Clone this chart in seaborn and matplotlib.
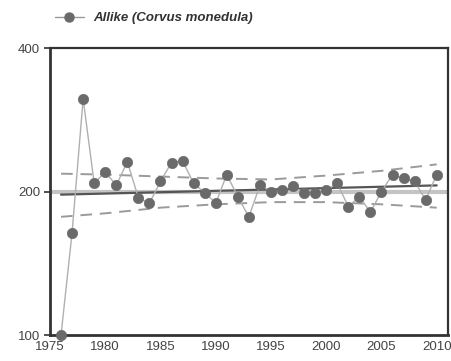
import matplotlib
matplotlib.use("Agg")
import matplotlib.pyplot as plt
from matplotlib.ticker import FixedLocator, NullLocator, MultipleLocator
from matplotlib.lines import Line2D
import seaborn as sns
import pandas as pd

years = list(range(1976, 2011))
index_values = [100, 164, 313, 208, 220, 206, 231, 194, 189, 210,
                230, 232, 208, 199, 189, 217, 195, 177, 206, 200,
                201, 205, 199, 199, 201, 208, 186, 195, 181, 200,
                217, 213, 210, 192, 217]

trend_years = [1976, 2010]
trend_values = [197, 206]

band_years = [1976, 1980, 1985, 1990, 1995, 2000, 2005, 2010]
band_upper = [218, 217, 215, 213, 212, 216, 221, 228]
band_lower = [177, 180, 185, 188, 190, 190, 188, 185]

reference_value = 200
y_ticks = [100, 200, 400]
x_ticks = [1975, 1980, 1985, 1990, 1995, 2000, 2005, 2010]
legend_label = "Allike (Corvus monedula)"

sns.set_style("white")
plt.rcParams['font.family'] = ['Liberation Sans', 'DejaVu Sans']

fig = plt.figure(figsize=(4.52, 3.61), dpi=100)
ax = fig.add_axes([0.1106, 0.072, 0.880, 0.795])

df = pd.DataFrame({"year": years, "index": index_values})
band = pd.DataFrame({"year": band_years, "upper": band_upper, "lower": band_lower})
trend = pd.DataFrame({"year": trend_years, "value": trend_values})

ax.axhline(reference_value, color="#c4c4c4", lw=3, zorder=1)
sns.lineplot(data=band, x="year", y="upper", ax=ax, color="#9a9a9a", lw=1.4,
             dashes=False, zorder=2, linestyle=(0, (6, 4)))
sns.lineplot(data=band, x="year", y="lower", ax=ax, color="#9a9a9a", lw=1.4,
             zorder=2, linestyle=(0, (6, 4)))
sns.lineplot(data=trend, x="year", y="value", ax=ax, color="#555555", lw=1.6, zorder=3)
sns.lineplot(data=df, x="year", y="index", ax=ax, color="#b0b0b0", lw=1.0, zorder=4)
sns.scatterplot(data=df, x="year", y="index", ax=ax, color="#6a6a6a", s=55,
                edgecolor="#6a6a6a", linewidth=0.5, zorder=5, clip_on=False)

ax.set_yscale("log")
ax.set_ylim(100, 400)
ax.set_xlim(1975, 2011)
ax.yaxis.set_major_locator(FixedLocator(y_ticks))
ax.yaxis.set_minor_locator(NullLocator())
ax.set_yticklabels([str(v) for v in y_ticks])
ax.xaxis.set_major_locator(FixedLocator(x_ticks))
ax.xaxis.set_minor_locator(MultipleLocator(1))
ax.set_xticklabels([str(v) for v in x_ticks])
ax.set_xlabel("")
ax.set_ylabel("")

ax.tick_params(axis="x", which="major", direction="in", length=4, width=1.5,
               color="#333333", labelsize=9.5, labelcolor="#444444", pad=4)
ax.tick_params(axis="x", which="minor", direction="in", length=2, width=0.8,
               color="#555555")
ax.tick_params(axis="y", which="major", direction="out", length=4, width=1.2,
               color="#333333", labelsize=9.5, labelcolor="#444444", pad=3, left=True)

for side, sp in ax.spines.items():
    sp.set_visible(True)
    sp.set_color("#333333")
    sp.set_linewidth(2.0 if side in ("left", "bottom") else 1.6)

handle = Line2D([], [], color="#999999", lw=1.0, marker="o", markersize=6.5,
                markerfacecolor="#6a6a6a", markeredgecolor="#6a6a6a")
leg = fig.legend([handle], [legend_label], loc="center left",
                 bbox_to_anchor=(0.095, 0.95), frameon=False, handlelength=2.2,
                 handletextpad=0.7, prop={"size": 9.5, "weight": "bold", "style": "italic"})
for t in leg.get_texts():
    t.set_color("#333333")

fig.savefig("out.png", dpi=100)
